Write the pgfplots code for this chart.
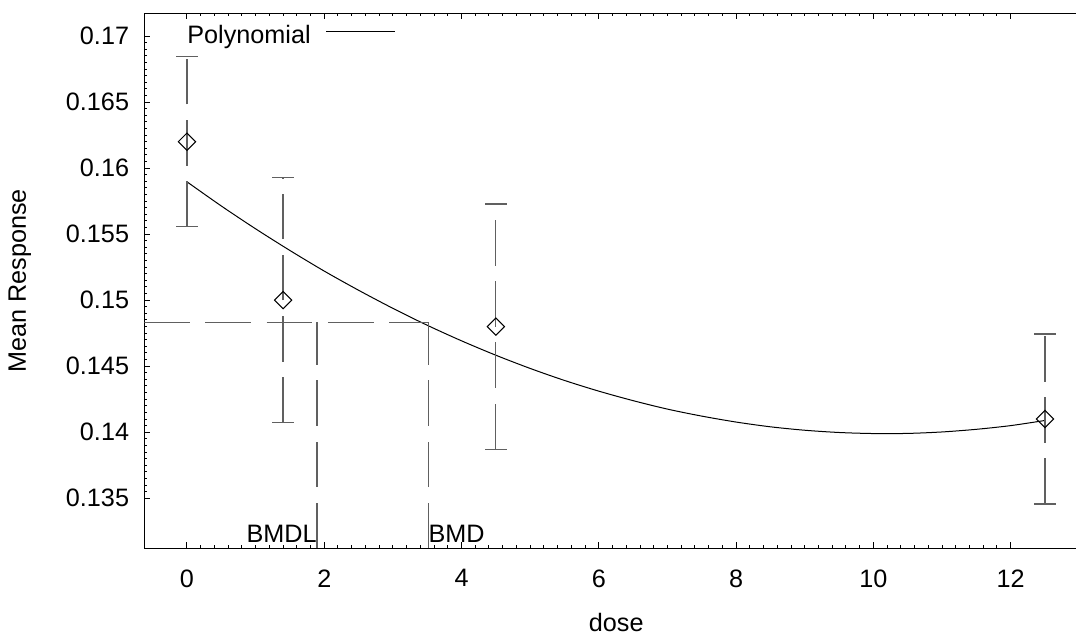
\documentclass[border=0pt]{standalone}
\usepackage{fontspec}
\setmainfont{Liberation Sans}
\usepackage{pgfplots}
\pgfplotsset{compat=1.18}
\definecolor{errgray}{RGB}{96,96,96}

\newcommand{\lblfont}{\fontsize{12.6}{14}\selectfont}

\begin{document}
\begin{tikzpicture}
\useasboundingbox (-72.15pt,-42.85pt) rectangle (465.85pt,274.15pt);
\begin{axis}[
  at={(0,0)}, anchor=south west,
  scale only axis,
  width=471.95pt, height=267.5pt,
  xmin=-0.622, xmax=13.13,
  ymin=0.13121, ymax=0.17172,
  xtick={0,2,4,6,8,10,12},
  ytick={0.135,0.14,0.145,0.15,0.155,0.16,0.165,0.17},
  minor x tick num=9,
  minor y tick num=9,
  tick align=inside,
  major tick length=3pt,
  minor tick length=1.5pt,
  every tick/.style={black, line width=0.5pt},
  axis line style={line width=0.6pt},
  scaled y ticks=false,
  /pgf/number format/assume math mode=true,
  yticklabel style={font=\lblfont, /pgf/number format/fixed,
    /pgf/number format/precision=3, xshift=-4.1pt},
  xticklabel style={font=\lblfont, yshift=-7.1pt},
  xlabel={dose},
  ylabel={Mean Response},
  xlabel style={font=\lblfont, inner sep=0pt,
    at={(axis description cs:0.5,-0.1385)}, anchor=center},
  ylabel style={font=\lblfont, inner sep=0pt,
    at={(axis description cs:-0.1318,0.5)}, anchor=center},
  legend plot pos=right,
  legend style={
    at={(axis description cs:0.04524,0.95794)}, anchor=west,
    draw=none, fill=none, inner sep=0pt,
    column sep=7.5pt, nodes={inner sep=0pt}, font=\lblfont,
  },
  legend image code/.code={\draw[#1] (0pt,2pt) -- (34.5pt,2pt);},
]

% fitted polynomial
\addplot[black, line width=0.5pt, smooth] coordinates {
  (0,0.15896)(0.5,0.15713)(1,0.15540)(1.5,0.15376)(2,0.15220)
  (2.5,0.15075)(3,0.14938)(3.5,0.14810)(4,0.14692)(4.5,0.14583)
  (5,0.14483)(5.5,0.14392)(6,0.14311)(6.5,0.14239)(7,0.14175)
  (7.5,0.14122)(8,0.14077)(8.5,0.14041)(9,0.14015)(9.5,0.13998)
  (10,0.13990)(10.5,0.13991)(11,0.14002)(11.5,0.14022)(12,0.14050)
  (12.5,0.14089)
};
\addlegendentry{Polynomial}

% error bars (bottom to top)
\addplot[errgray, line width=0.6pt, dash pattern=on 22.8pt off 7.8pt,
  unbounded coords=jump, mark=-,
  mark options={solid, mark size=5.4pt, line width=0.6pt}, forget plot]
  coordinates {
  (0,0.15556)(0,0.16844)(0,nan)
  (1.4,0.14072)(1.4,0.15928)(1.4,nan)
  (4.5,0.13872)(4.5,0.15728)(4.5,nan)
  (12.5,0.13457)(12.5,0.14743)
};

% observed means
\addplot[only marks, mark=square, mark size=3.05pt,
  mark options={black, rotate=45, line width=0.5pt}, forget plot]
  coordinates {(0,0.162)(1.4,0.150)(4.5,0.148)(12.5,0.141)};

% BMD / BMDL guides
\addplot[errgray, line width=0.6pt, dash pattern=on 22.8pt off 7.8pt, forget plot]
  coordinates {(-0.622,0.14831)(3.515,0.14831)};
\addplot[errgray, line width=0.6pt, dash pattern=on 22.8pt off 7.8pt, forget plot]
  coordinates {(1.894,0.13121)(1.894,0.14831)};
\addplot[errgray, line width=0.6pt, dash pattern=on 22.8pt off 7.8pt, forget plot]
  coordinates {(3.515,0.13121)(3.515,0.14831)};

\node[anchor=base east, inner sep=0pt, font=\lblfont] at (axis cs:1.894,0.13163) {BMDL};
\node[anchor=base west, inner sep=0pt, font=\lblfont] at (axis cs:3.515,0.13163) {BMD};

\end{axis}
\end{tikzpicture}
\end{document}
